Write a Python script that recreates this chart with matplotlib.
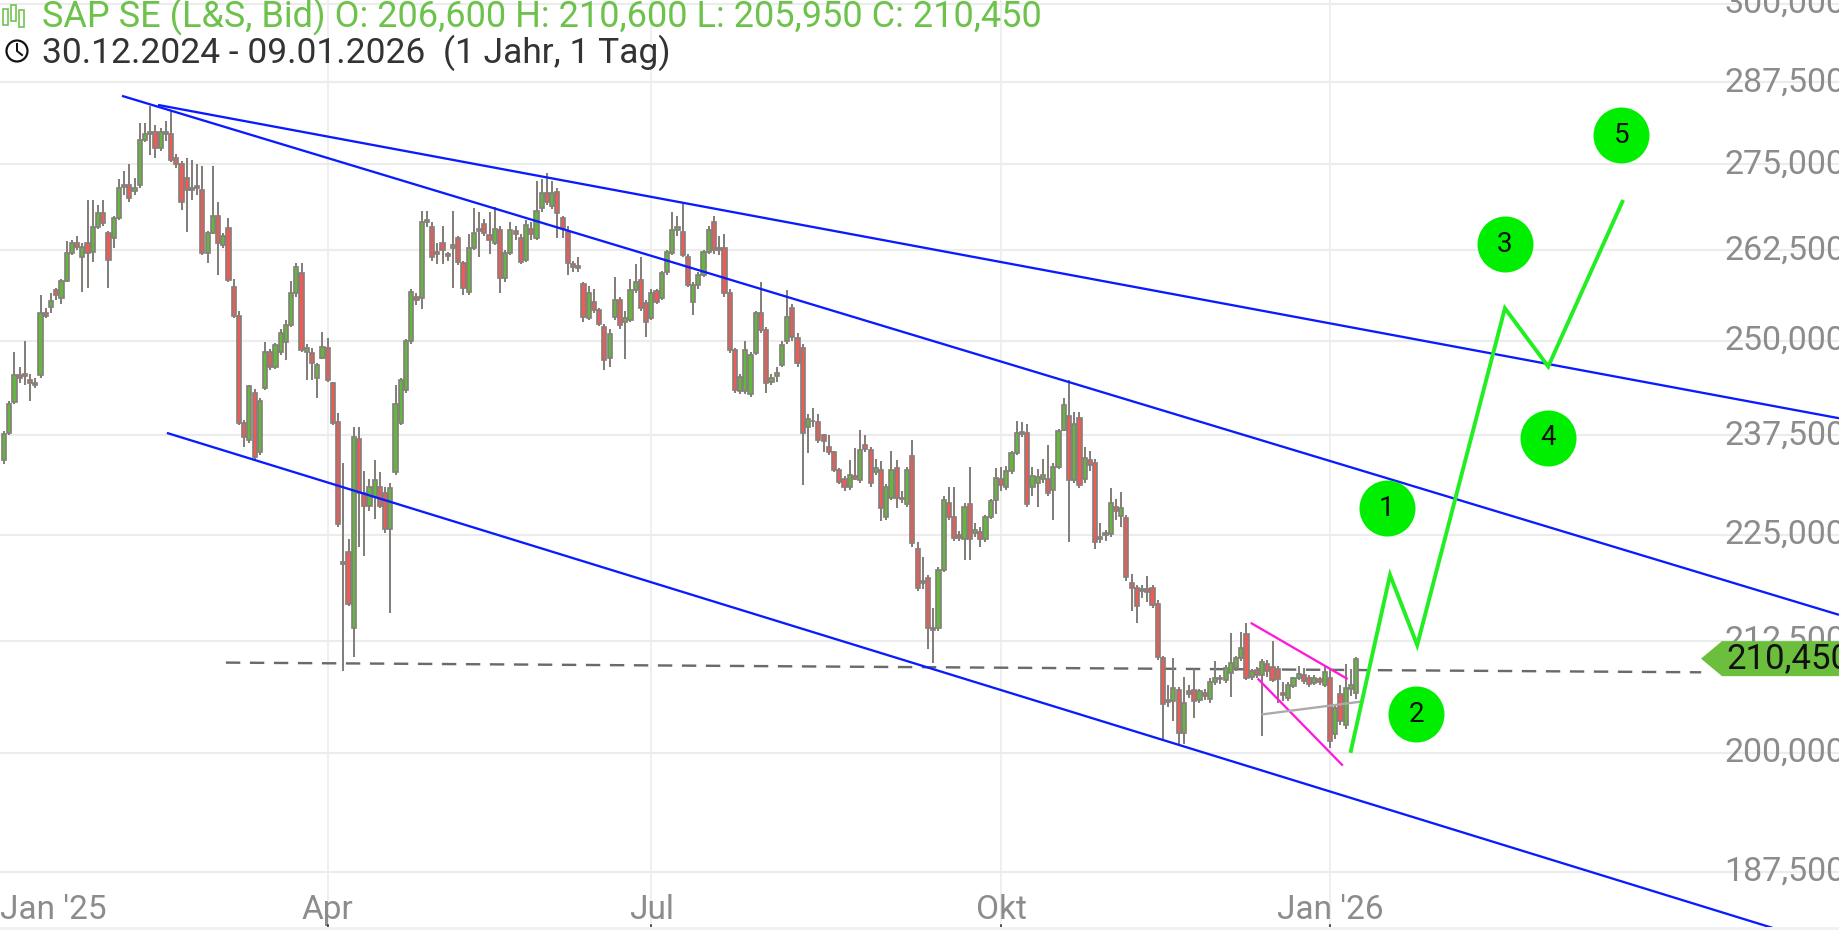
import numpy as np
import matplotlib
matplotlib.use("Agg")
import matplotlib.pyplot as plt
from matplotlib.patches import Polygon, Circle, Rectangle
from matplotlib.transforms import IdentityTransform

# ---------------- data ----------------
opens = [234.3,237.8,241.8,245.4,245.2,244.7,244.3,245.4,253.8,254.6,256.9,255.8,258.2,262.1,263.5,261.6,263.5,262.2,265.8,267.9,
         265.0,264.3,267.1,271.7,271.9,271.0,271.9,278.7,279.6,279.8,277.5,279.6,279.6,276.0,275.1,273.0,271.2,271.8,271.2,262.1,
         265.0,267.5,263.2,265.7,257.3,253.4,239.1,236.9,243.0,235.4,243.7,248.4,246.5,248.4,249.8,252.1,256.5,259.3,248.4,248.3,
         245.0,247.7,249.0,244.3,239.2,221.8,222.9,214.0,237.0,230.2,228.6,229.7,231.0,230.2,225.7,232.8,239.1,243.4,249.9,255.9,
         255.8,266.5,265.8,262.0,263.6,262.0,262.8,264.2,260.7,256.6,262.8,265.3,266.3,264.7,263.6,265.4,258.6,262.1,265.2,264.2,
         261.1,265.6,264.2,268.6,270.8,268.9,270.9,267.2,265.1,260.5,260.3,257.8,253.1,255.2,254.1,251.8,247.7,253.2,255.5,252.5,
         252.8,256.9,258.3,255.1,253.1,256.8,255.8,259.4,262.1,265.4,265.1,261.5,255.2,257.6,259.0,262.2,266.5,262.5,262.8,256.5,
         248.7,243.2,243.2,242.8,248.3,253.7,251.4,244.5,245.2,246.7,249.9,254.4,250.4,249.0,238.6,239.3,239.2,237.5,236.0,235.3,
         233.1,232.0,230.9,232.3,231.8,236.2,235.6,232.8,233.1,227.2,229.6,233.3,229.6,228.8,234.8,223.3,219.5,219.8,214.0,214.0,
         220.8,229.0,227.2,225.0,224.5,228.8,225.3,225.4,224.5,227.2,229.3,232.0,231.0,232.9,235.2,237.6,237.8,230.9,231.5,232.0,
         231.9,230.6,233.5,238.2,240.0,231.8,239.7,232.0,234.3,234.0,224.5,225.0,225.1,228.5,227.4,227.1,219.3,218.6,218.3,218.5,
         218.6,216.8,210.5,205.6,205.7,206.9,202.1,206.8,206.9,205.8,206.6,205.9,207.8,208.3,208.0,208.8,209.4,210.5,213.3,208.4,
         209.2,208.6,209.8,209.5,209.3,206.6,206.0,207.4,208.2,208.6,208.3,207.7,208.1,207.5,208.2,202.0,206.5,203.0,207.0,206.6]
highs = [238.0,242.0,248.4,246.5,250.0,245.5,245.0,256.2,254.5,256.5,257.2,258.5,263.9,264.0,264.6,263.5,269.7,269.7,269.0,269.7,
         265.2,267.5,272.8,274.0,275.0,273.0,281.3,281.2,283.9,281.0,280.5,281.5,283.2,276.5,275.5,275.9,275.6,275.0,274.8,265.3,
         274.8,269.4,265.0,267.1,258.5,254.0,239.5,244.1,243.5,242.3,249.8,248.8,249.7,251.5,252.8,258.2,260.7,260.7,249.5,249.0,
         247.0,251.1,250.4,244.5,240.4,233.9,224.5,238.6,238.6,233.0,232.0,234.3,232.8,231.0,231.5,244.0,245.0,250.2,257.0,256.5,
         268.2,268.2,266.5,263.5,266.0,262.3,268.2,264.5,261.0,264.8,268.6,268.0,267.0,268.0,268.8,266.0,262.5,266.5,266.0,264.8,
         266.8,266.5,272.6,272.9,273.8,272.5,271.5,267.5,266.0,261.0,261.5,258.0,257.5,257.0,254.5,252.2,251.5,258.8,256.0,254.0,
         258.5,260.5,261.5,255.5,257.0,257.0,259.6,262.5,268.0,267.5,269.2,262.0,258.0,259.5,262.5,266.0,267.5,264.5,264.8,257.0,
         249.0,245.5,250.0,248.5,254.0,258.0,251.8,245.5,246.5,250.0,256.9,255.0,251.0,249.5,240.2,241.0,240.3,237.7,237.5,235.5,
         233.3,232.3,234.3,235.9,238.2,237.5,236.0,234.5,234.2,231.3,235.5,234.3,230.5,233.5,236.9,224.2,222.3,220.2,216.3,221.2,
         229.8,231.0,231.0,225.5,229.0,233.4,226.5,226.0,227.5,229.5,233.3,233.5,233.6,235.5,239.3,239.2,239.0,233.5,233.2,234.5,
         236.3,234.0,238.3,242.3,244.7,240.5,240.5,236.0,235.5,234.5,226.5,225.6,230.8,229.5,230.3,227.5,220.3,219.0,219.0,220.1,
         219.0,217.2,210.8,207.5,210.5,207.3,208.4,207.5,209.3,207.0,207.0,208.2,210.2,208.6,209.7,213.4,210.8,213.5,214.6,209.3,
         209.5,210.4,210.3,212.5,209.6,207.8,207.8,208.4,209.6,209.4,208.6,208.6,208.4,209.5,209.4,205.3,207.5,209.8,209.3,210.6]
lows = [233.8,237.5,241.5,244.3,244.0,242.0,243.7,245.0,253.0,253.7,255.5,255.0,258.0,261.8,262.5,256.6,257.2,260.8,265.5,266.0,
        257.2,262.8,266.8,270.5,269.5,270.5,271.5,278.3,276.4,276.0,277.0,278.5,275.3,274.5,268.3,265.1,269.7,270.5,261.8,260.7,
        264.8,259.0,262.8,258.0,253.0,238.8,236.0,236.5,234.3,235.0,243.4,246.0,246.2,248.0,247.4,251.8,256.0,248.4,244.7,244.7,
        242.3,247.5,244.5,238.8,226.0,209.1,216.5,210.6,223.6,222.5,228.0,227.0,228.3,225.3,215.7,232.5,238.8,243.0,249.5,254.8,
        254.3,265.8,261.0,260.5,260.5,261.0,257.2,260.4,256.2,256.3,262.5,261.5,264.5,262.0,263.3,256.5,258.0,261.8,264.0,260.5,
        260.8,264.0,264.0,268.0,269.0,268.5,264.2,264.2,259.0,259.5,259.5,252.5,252.8,253.8,252.0,246.1,246.5,252.8,251.5,247.5,
        252.5,256.5,254.0,250.5,252.8,255.0,255.5,259.0,261.8,264.5,261.5,257.3,253.5,257.0,258.8,262.0,262.0,261.8,256.0,248.3,
        243.0,242.8,242.8,242.5,248.0,251.0,243.0,244.0,244.5,246.5,249.5,250.0,246.5,231.2,235.2,238.5,236.5,235.3,235.0,232.8,
        231.3,230.5,230.6,231.8,231.5,235.3,231.0,232.5,226.7,226.8,229.3,228.3,229.0,228.5,223.5,218.3,218.5,211.6,210.0,213.6,
        220.5,226.8,224.3,224.3,222.0,222.0,224.8,223.5,224.2,227.0,227.6,230.5,230.6,232.6,235.0,237.3,228.5,229.8,228.5,231.5,
        229.8,226.9,233.2,238.0,224.2,231.5,230.8,231.5,233.0,223.3,224.0,224.3,224.8,226.8,226.0,219.5,216.0,214.5,217.5,217.0,
        216.3,210.3,201.3,205.0,203.5,201.0,201.0,206.0,203.8,205.5,205.8,205.5,207.5,207.6,207.7,206.1,209.1,210.2,208.0,208.0,
        208.2,201.8,208.4,207.8,205.5,205.7,205.7,207.1,208.0,207.6,207.3,207.5,207.5,207.3,200.5,201.5,203.0,202.6,206.2,205.95]
closes = [237.6,241.6,245.4,245.0,245.5,244.3,244.0,253.8,253.3,255.4,256.2,258.2,262.1,263.5,263.0,263.0,262.1,265.8,267.9,266.4,
          261.1,267.1,271.5,272.0,270.0,271.5,278.7,279.6,279.8,277.5,279.8,279.9,275.6,275.1,269.4,271.2,271.5,271.5,262.1,265.0,
          267.5,263.6,264.6,258.3,253.4,239.1,237.3,243.9,234.7,242.0,248.4,246.5,249.4,251.0,252.1,256.5,260.1,248.7,249.0,247.0,
          246.7,249.1,244.7,239.1,226.3,221.5,216.8,237.3,230.2,228.6,231.0,231.8,228.6,225.7,230.8,241.6,244.7,249.9,256.6,255.5,
          266.5,266.8,261.5,262.3,262.5,261.7,263.2,260.8,257.2,262.8,265.0,265.6,265.0,264.0,265.6,258.6,262.1,265.4,264.8,260.8,
          266.1,264.8,268.2,270.8,269.4,270.8,267.8,265.6,260.7,260.1,260.0,253.2,256.5,254.1,252.3,247.4,250.9,255.5,252.1,253.0,
          256.9,258.0,254.5,252.5,256.5,255.3,259.3,262.2,265.4,265.8,261.8,257.6,257.6,259.0,262.2,265.4,262.5,262.8,256.5,248.7,
          243.4,245.1,248.7,248.0,253.7,251.4,244.3,245.0,245.6,249.4,253.2,250.5,247.0,237.8,239.6,239.4,236.9,236.8,235.3,233.1,
          231.6,230.9,232.5,232.0,235.6,235.7,231.4,233.3,228.3,230.9,233.1,229.6,229.5,233.1,224.1,218.7,219.2,214.0,213.7,220.8,
          229.3,227.2,224.6,224.6,228.4,224.5,225.6,224.5,227.2,229.2,232.1,231.2,233.0,235.2,237.8,237.9,228.8,232.3,232.2,232.4,
          230.2,233.5,238.0,241.4,231.8,238.9,231.2,234.6,233.7,224.2,224.8,225.3,229.0,228.0,228.3,219.9,218.7,216.5,218.5,218.2,
          216.6,210.6,205.4,205.8,207.1,202.1,205.5,206.5,205.7,206.8,206.2,207.8,208.3,208.1,209.4,209.9,210.5,211.7,208.2,209.0,
          208.6,210.1,209.0,208.0,208.1,206.3,207.5,208.2,208.7,207.9,207.6,208.3,207.8,208.9,201.3,204.9,203.5,207.1,207.5,210.45]

tick_labels = ["Apr", "Jul", "Okt", "Jan '26"]
tick_idx = [62, 124, 191, 254]
first_tick_label = "Jan '25"

grid_prices = [187.5, 200.0, 212.5, 225.0, 237.5, 250.0, 262.5, 275.0, 287.5, 300.0]
grid_labels = ["187,500", "200,000", "212,500", "225,000", "237,500",
               "250,000", "262,500", "275,000", "287,500", "300,000"]

# drawn annotations (index, price)
channel_upper = ([29.5, 351.5], [284.0, 239.7])
channel_middle = ([22.6, 351.5], [285.4, 215.5])
channel_lower = ([31.2, 351.5], [237.8, 179.9])
support_dashed = ([42.5, 325.1], [210.0, 208.9])
wedge_upper = ([239.0, 257.2], [214.5, 208.2])
wedge_lower = ([240.3, 256.3], [208.1, 198.7])
gray_line = ([241.1, 259.8], [204.2, 205.6])

wave_idx = [258.0, 265.5, 270.7, 287.5, 295.8, 310.0]
wave_price = [200.2, 220.2, 212.0, 254.4, 246.5, 269.5]
wave_labels = ["1", "2", "3", "4", "5"]
wave_label_idx = [264.9, 270.5, 287.5, 295.8, 309.8]
wave_label_price = [228.3, 204.2, 263.4, 237.2, 279.4]

last_price = 210.45
last_label = "210,450"
title = "SAP SE (L&S, Bid) O: 206,600 H: 210,600 L: 205,950 C: 210,450"
subtitle = "30.12.2024 - 09.01.2026  (1 Jahr, 1 Tag)"

# ---------------- styling ----------------
W, H = 1839, 930
PX = 72 / 100.0  # points per pixel
plt.rcParams['font.family'] = ['Roboto', 'DejaVu Sans']

GRID = '#ececec'
EDGE = '#857f7c'
UP = '#62b83a'
DOWN = '#f05a54'
BLUE = '#0a1cff'
PINK = '#ff1ad9'
LIME = '#22ee22'
LABEL = '#8c8c8c'
TAGGREEN = '#6cbf3c'

fig = plt.figure(figsize=(W / 100, H / 100), dpi=100)
ax = fig.add_axes([0, 0, 1, 1])
ax.set_axis_off()
ax.set_yscale('log')
ax.set_ylim(181.7, 300.6)
ax.set_xlim(-0.77, 351.5)

n = len(closes)
x = np.arange(n)
o = np.array(opens); h = np.array(highs); l = np.array(lows); c = np.array(closes)

# grid
for gp in grid_prices:
    ax.axhline(gp, color=GRID, lw=2.2 * PX, zorder=0)
for ti in tick_idx:
    ax.axvline(ti, color=GRID, lw=1.6 * PX, zorder=0)

# dashed support
ax.plot(support_dashed[0], support_dashed[1], color='#6a6a6a', lw=2.4 * PX,
        dashes=(6, 4), zorder=1)

# candles
ax.vlines(x, l, h, color=EDGE, lw=2.0 * PX, zorder=2)
up = c >= o
body_bottom = np.minimum(o, c)
body_height = np.abs(c - o)
ax.bar(x[up], body_height[up], bottom=body_bottom[up], width=0.8,
       color=UP, edgecolor=EDGE, linewidth=1.7 * PX, zorder=3)
ax.bar(x[~up], body_height[~up], bottom=body_bottom[~up], width=0.8,
       color=DOWN, edgecolor=EDGE, linewidth=1.7 * PX, zorder=3)

# trend lines
for ln in (channel_upper, channel_middle, channel_lower):
    ax.plot(ln[0], ln[1], color=BLUE, lw=2.3 * PX, zorder=4, solid_capstyle='butt')
for ln in (wedge_upper, wedge_lower):
    ax.plot(ln[0], ln[1], color=PINK, lw=2.3 * PX, zorder=4)
ax.plot(gray_line[0], gray_line[1], color='#aaaaaa', lw=2.3 * PX, zorder=4)

# Elliott wave projection
ax.plot(wave_idx, wave_price, color=LIME, lw=3.9 * PX, zorder=5, solid_joinstyle='miter')
ax.plot(wave_label_idx, wave_label_price, 'o', ms=56 * PX, color='#00ee00',
        markeredgewidth=0, zorder=6, linestyle='none')
for lab, xi, yp in zip(wave_labels, wave_label_idx, wave_label_price):
    ax.text(xi, yp, lab, ha='center', va='center', fontsize=20, color='#111111', zorder=7)

# y labels (inside, right; clipped by the figure edge like the original)
for gp, gl in zip(grid_prices, grid_labels):
    ax.text(1724 / W, gp, gl, transform=ax.get_yaxis_transform(), ha='left', va='center',
            fontsize=24.5, color=LABEL, zorder=8, clip_on=False)

# x labels
lab_y = 1 - 910 / H
fig.text(0, lab_y, first_tick_label, ha='left', va='center', fontsize=24, color=LABEL)
for ti, tl in zip(tick_idx, tick_labels):
    ax.text(ti, lab_y, tl, transform=ax.get_xaxis_transform(), ha='center', va='center',
            fontsize=24, color=LABEL)
    ax.plot([ti, ti], [0, 5 / H], transform=ax.get_xaxis_transform(), color='#222222',
            lw=1.5 * PX, zorder=9, clip_on=False)
fig.patches.append(Rectangle((0, 0), 1, 3 / H, transform=fig.transFigure,
                             facecolor='#eef1f5', edgecolor='none', zorder=0))

# last price tag
fig.canvas.draw()
yc = ax.transData.transform((0, last_price))[1]
hh = 17.5
tag = Polygon([(1701, yc), (1722, yc + hh), (W + 5, yc + hh), (W + 5, yc - hh), (1722, yc - hh)],
              closed=True, transform=IdentityTransform(), facecolor=TAGGREEN,
              edgecolor='none', zorder=10)
ax.add_artist(tag)
ax.text(1726, yc, last_label, transform=IdentityTransform(), ha='left', va='center',
        fontsize=25, color='#111111', zorder=11)

# header
fig.text(42 / W, 1 - 17 / H, title, ha='left', va='center', fontsize=26, color='#6cc24a')
fig.text(42 / W, 1 - 53 / H, subtitle, ha='left', va='center', fontsize=25.5, color='#333333')
# small candle icon
for (cx, y0, y1) in [(5, 9, 25), (13, 5, 21), (21, 10, 27)]:
    fig.patches.append(Rectangle((cx - 2.5, H - y1), 5, (y1 - y0),
                                 transform=IdentityTransform(), facecolor='white',
                                 edgecolor='#6cc24a', lw=1.6 * PX))
# clock icon
fig.patches.append(Circle((17, H - 51), 10.5, transform=IdentityTransform(),
                          facecolor='none', edgecolor='#111111', lw=2.2 * PX))
fig.lines.append(plt.Line2D([17, 17, 22], [H - 44, H - 51, H - 55], transform=IdentityTransform(),
                            color='#111111', lw=2 * PX))

fig.savefig('out.png', dpi=100)
